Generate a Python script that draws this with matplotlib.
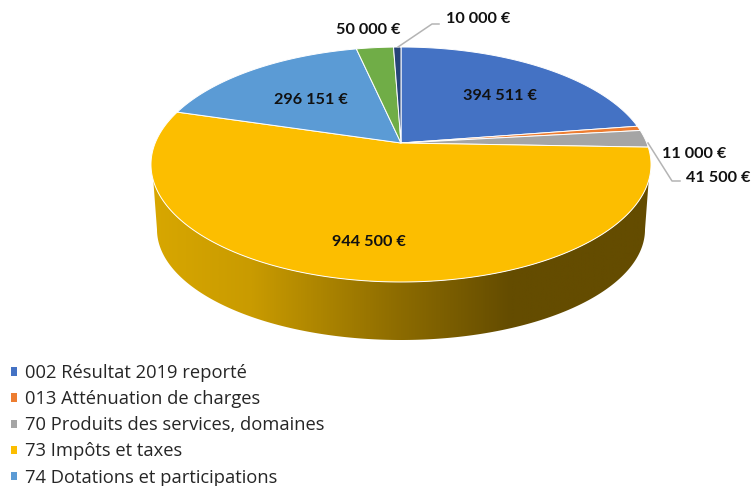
import numpy as np
import matplotlib
matplotlib.use("Agg")
import matplotlib.pyplot as plt
from matplotlib.colors import LinearSegmentedColormap
from matplotlib.patches import Polygon, Patch

categories = ["002 Résultat 2019 reporté", "013 Atténuation de charges",
              "70 Produits des services, domaines", "73 Impôts et taxes",
              "74 Dotations et participations", "75 Autres produits", "77 Produits exceptionnels"]
values = [394511, 11000, 41500, 944500, 296151, 50000, 10000]
colors = ["#4472C4", "#ED7D31", "#A5A5A5", "#FCBE00", "#5B9BD5", "#70AD47", "#264478"]
legend_count = 5
value_labels = ["394 511 €", "11 000 €", "41 500 €", "944 500 €", "296 151 €", "50 000 €", "10 000 €"]
label_xy = [(499.5, 95.5), (694, 153.5), (718.5, 177.5), (369, 241.5), (311, 99.5), (368, 29.5), (478, 19)]

# projection of the pie (pixels)
CX, CY, A, B, K = 401.0, 143.0, 245.8, 113.56, 0.183
BOT_CX, BOT_CY, BOT_RX, BOT_RY = 401.0, 229.5, 244.0, 110.5
SIDE_TOP_Y = 180.0

def project(theta):
    u, v = np.sin(theta), np.cos(theta)
    d = 1 + K * v
    return CX + A * u / d, CY - B * v / d

fig = plt.figure(figsize=(7.52, 4.86), dpi=100)
ax = fig.add_axes([0, 0, 1, 1])
ax.set_xlim(0, 752)
ax.set_ylim(486, 0)
ax.axis("off")

# side wall, gradient clipped to the wall outline
phi = np.linspace(0, 2 * np.pi, 720)
tx, ty = project(phi)
lower = ty >= SIDE_TOP_Y
order = np.argsort(tx[lower])
top_x, top_y = tx[lower][order], ty[lower][order]
t = np.linspace(np.pi, 0, 300)
bx, by = BOT_CX + BOT_RX * np.cos(t), BOT_CY + BOT_RY * np.sin(t)
wall = np.vstack([np.column_stack([top_x, top_y]), np.column_stack([bx, by])[::-1]])
cmap = LinearSegmentedColormap.from_list("wall", [(0, "#D8A700"), (0.2, "#C99B00"), (0.5, "#8C6B00"),
                                                  (0.72, "#644C00"), (1, "#644C00")])
grad = np.linspace(0, 1, 512)[None, :]
im = ax.imshow(grad, cmap=cmap, extent=[151, 651, 345, 160], aspect="auto", zorder=1)
poly = Polygon(wall, closed=True, transform=ax.transData, fc="none", ec="none")
ax.add_patch(poly)
im.set_clip_path(poly)
ax.set_xlim(0, 752)
ax.set_ylim(486, 0)

# top face
fractions = np.cumsum([0] + values) / sum(values)
for i, c in enumerate(colors):
    th = np.linspace(fractions[i], fractions[i + 1], 200) * 2 * np.pi
    x, y = project(th)
    ax.fill(np.r_[CX, x], np.r_[CY, y], fc=c, ec="white", lw=0.7, zorder=2, joinstyle="round")

# leader lines
for lx, ly in [((398, 432, 439), (47, 24, 24)), ((648, 672, 680), (143, 181, 181))]:
    ax.plot(lx, ly, color="#B4B4B4", lw=1.1, zorder=3)

# value labels
for txt, (x, y) in zip(value_labels, label_xy):
    ax.text(x, y, txt, family="Lato", weight="bold", fontsize=11.7, color="#111111",
            ha="center", va="center", zorder=4)

handles = [Patch(fc=colors[i], ec="none", label=categories[i]) for i in range(legend_count)]
leg = ax.legend(handles=handles, loc="upper left", bbox_to_anchor=(0.0142, 0.251), bbox_transform=fig.transFigure,
                frameon=False, prop={"family": "Open Sans", "size": 13.2}, labelspacing=0.445,
                handlelength=0.36, handleheight=0.33, handletextpad=0.44, borderpad=0, borderaxespad=0)
for t_ in leg.get_texts():
    t_.set_color("#262626")

fig.savefig("out.png", dpi=100, facecolor="white")
